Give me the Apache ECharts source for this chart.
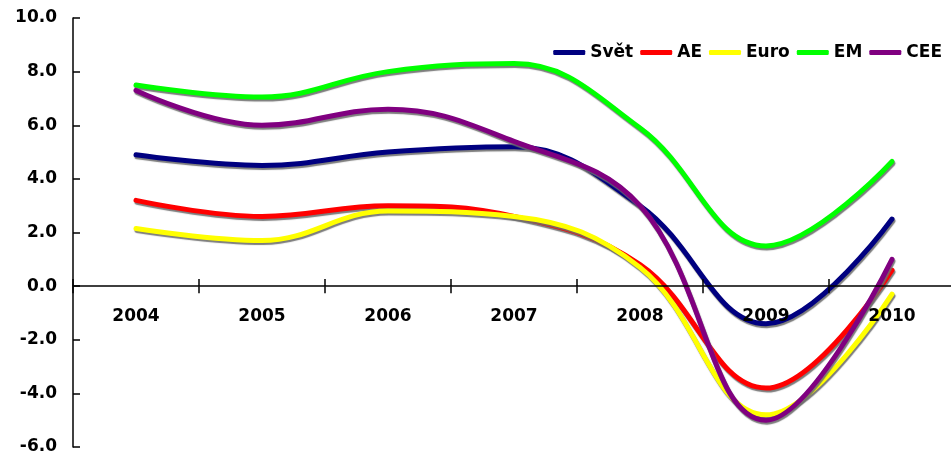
<!DOCTYPE html>
<html><head><meta charset="utf-8">
<script src="https://cdn.jsdelivr.net/npm/echarts@6/dist/echarts.min.js"></script>
<style>html,body{margin:0;padding:0;background:#fff}#c{width:951px;height:457px}</style>
</head><body><div id="c"></div>
<script>
const years = ['2004','2005','2006','2007','2008','2009','2010'];
const svet = [4.9, 4.5, 5.0, 5.2, 3.0, -1.4, 2.5];
const ae   = [3.2, 2.6, 3.0, 2.6, 0.8, -3.8, 0.6];
const euro = [2.15, 1.7, 2.8, 2.6, 0.7, -4.8, -0.3];
const em   = [7.5, 7.05, 8.0, 8.3, 5.9, 1.5, 4.65];
const cee  = [7.3, 6.0, 6.6, 5.4, 3.0, -5.0, 1.0];
const seriesNames = ['Svět','AE','Euro','EM','CEE'];
const seriesColors = ['#000080','#FF0000','#FFFF00','#00FF00','#800080'];
const seriesData = [svet, ae, euro, em, cee];

const font = 'DejaVu Sans';
const chart = echarts.init(document.getElementById('c'));
chart.setOption({
  animation: false,
  backgroundColor: '#fff',
  grid: { left: 73, right: -4, top: 18, bottom: 10, containLabel: false, outerBoundsMode: 'none' },
  legend: {
    right: 4, top: 39, itemWidth: 32, itemHeight: 5, itemGap: 7,
    icon: 'roundRect',
    textStyle: { fontFamily: font, fontWeight: 'bold', fontSize: 17, color: '#000' },
    data: seriesNames
  },
  xAxis: [{
    type: 'category', data: years, boundaryGap: true, z: 10,
    axisLine: { onZero: true, lineStyle: { color: '#000', width: 1.5 } },
    axisTick: { show: true, inside: false, length: 7, lineStyle: { color: '#000', width: 1.5 } },
    axisLabel: { show: false },
    splitLine: { show: false }
  },{
    type: 'category', data: years, boundaryGap: true, position: 'bottom', offset: -161, z: 10,
    axisLine: { show: false, onZero: false },
    axisTick: { show: true, inside: true, length: 7, lineStyle: { color: '#000', width: 1.5 } },
    axisLabel: { show: true, margin: 22, fontFamily: font, fontWeight: 'bold', fontSize: 17, color: '#000', interval: 0 },
    splitLine: { show: false }
  }],
  yAxis: {
    type: 'value', min: -6, max: 10, interval: 2,
    axisLine: { show: true, lineStyle: { color: '#000', width: 1.5 } },
    axisTick: { show: true, inside: true, length: 7, lineStyle: { color: '#000', width: 1.5 } },
    axisLabel: { margin: 16, fontFamily: font, fontWeight: 'bold', fontSize: 17, color: '#000',
      formatter: v => v.toFixed(1) },
    splitLine: { show: false }
  },
  series: seriesNames.map((n, i) => ({
    name: n, type: 'line', data: seriesData[i], smooth: 0.4, symbol: 'none',
    color: seriesColors[i],
    lineStyle: { width: 5, color: seriesColors[i], cap: 'round', join: 'round',
      shadowColor: 'rgba(110,110,110,0.9)', shadowBlur: 1, shadowOffsetX: 1, shadowOffsetY: 2 },
    itemStyle: { color: seriesColors[i] }
  }))
});
</script></body></html>
